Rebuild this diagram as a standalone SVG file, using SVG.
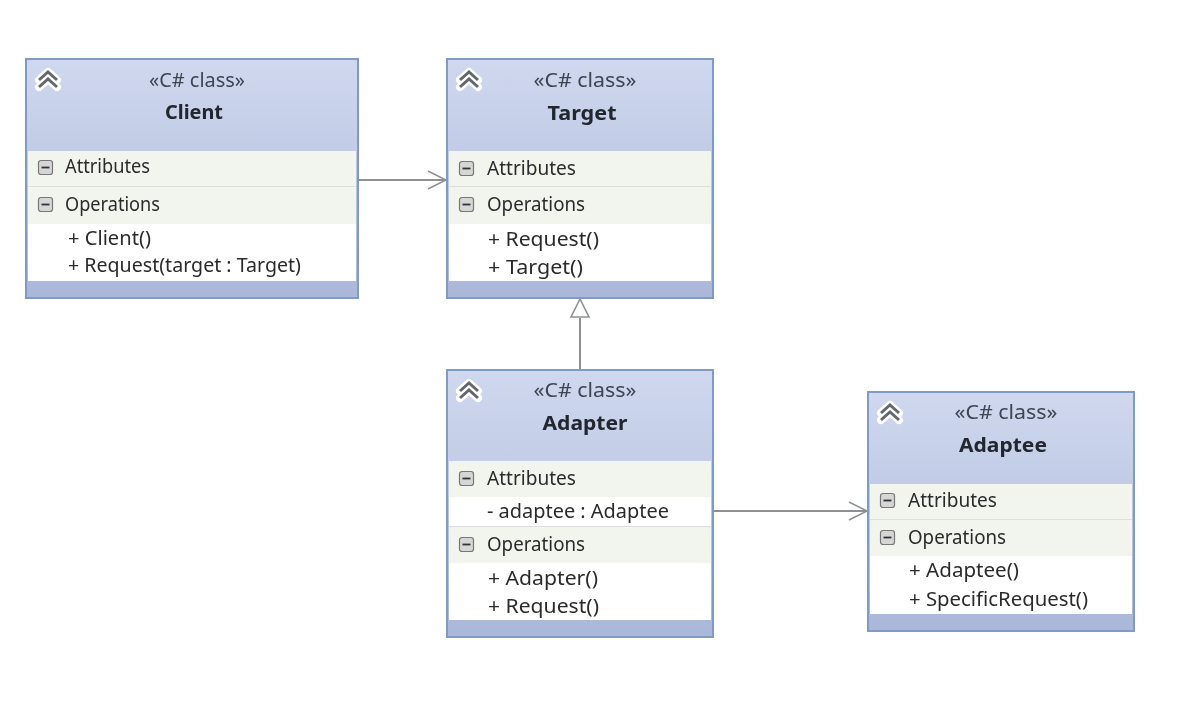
<svg xmlns="http://www.w3.org/2000/svg" width="1196" height="705" viewBox="0 0 1196 705">
<style>
text{font-family:"Noto Sans","Liberation Sans",sans-serif;font-size:19px;fill:#2b2b2b}
.st{fill:#3d4452;text-anchor:middle;font-size:20px}
.nm{font-weight:700;font-size:20px;text-anchor:middle;fill:#22262e}
.body{fill:url(#hdr);stroke:#7f9bc4;stroke-width:2}
.white{fill:#fff}
.sec{fill:#f2f5ee}
.sep{stroke:#dcdfdc;stroke-width:1}
.btn{fill:#d6d6d6;stroke:#777;stroke-width:1.2}
.dash{stroke:#333;stroke-width:1.8}
.chevW{fill:none;stroke:#fff;stroke-width:8;stroke-linejoin:round;stroke-linecap:round}
.chev{fill:none;stroke:#62676e;stroke-width:3}
.line{fill:none;stroke:#8e9194;stroke-width:2}
.thin{fill:none;stroke:#8e9194;stroke-width:1.5}
.tri{fill:#fff;stroke:#8e9194;stroke-width:1.6}
.soft{filter:url(#soft)}
</style>
<defs>
<filter id="soft" x="-5%" y="-5%" width="110%" height="110%"><feGaussianBlur stdDeviation="0.5"/></filter>
<linearGradient id="hdr" x1="0" y1="0" x2="0" y2="1"><stop offset="0" stop-color="#cfd8ee"/><stop offset="0.35" stop-color="#c3cde7"/><stop offset="1" stop-color="#aab7d9"/></linearGradient>
<g id="chev"><path class="chevW" d="M0 8 9 0 18 8M0 15 9 7 18 15"/><path class="chev" d="M0 8 9 0 18 8M0 15 9 7 18 15"/></g>
<g id="toggle"><rect class="btn" x="0.5" y="0.5" width="14" height="14" rx="2.500"/><path class="dash" d="M3.500 7.500H11.500"/></g>
</defs>
<g id="connectors" class="soft">
<path class="line" d="M358 180H446"/><path class="thin" d="M428 171 446 180 428 189"/>
<path class="line" d="M580 370V318"/>
<path class="tri" d="M580 299 571 317H589Z"/>
<path class="line" d="M713 511H867"/><path class="thin" d="M849 502 867 511 849 520"/>
</g>
<g id="client" class="soft">
<rect class="body" x="26" y="59" width="332" height="239"/>
<rect class="sec" x="28" y="151" width="328" height="35"/>
<rect class="sec" x="28" y="187" width="328" height="37"/>
<path class="sep" d="M28 186.500H356"/>
<rect class="white" x="28" y="224" width="328" height="57"/>
<use href="#chev" x="39" y="72"/>
<text class="st" x="197" y="87" textLength="96" lengthAdjust="spacingAndGlyphs">«C# class»</text>
<text class="nm" x="194" y="119" textLength="58" lengthAdjust="spacingAndGlyphs">Client</text>
<use href="#toggle" x="38" y="160"/><text x="65" y="173" textLength="85" lengthAdjust="spacingAndGlyphs">Attributes</text>
<use href="#toggle" x="38" y="197"/><text x="65" y="211" textLength="95" lengthAdjust="spacingAndGlyphs">Operations</text>
<text x="68" y="245" textLength="83" lengthAdjust="spacingAndGlyphs">+ Client()</text>
<text x="68" y="272" textLength="233" lengthAdjust="spacingAndGlyphs">+ Request(target : Target)</text>
</g>
<g id="target" class="soft">
<rect class="body" x="447" y="59" width="266" height="239"/>
<rect class="sec" x="449" y="151" width="262" height="35"/>
<rect class="sec" x="449" y="187" width="262" height="37"/>
<path class="sep" d="M449 186.500H711"/>
<rect class="white" x="449" y="224" width="262" height="57"/>
<use href="#chev" x="460" y="72"/>
<text class="st" x="585" y="87" textLength="103" lengthAdjust="spacingAndGlyphs">«C# class»</text>
<text class="nm" x="582" y="120" textLength="69" lengthAdjust="spacingAndGlyphs">Target</text>
<use href="#toggle" x="459" y="161"/><text x="487" y="175" textLength="89" lengthAdjust="spacingAndGlyphs">Attributes</text>
<use href="#toggle" x="459" y="197"/><text x="487" y="211" textLength="98" lengthAdjust="spacingAndGlyphs">Operations</text>
<text x="488" y="246" textLength="111" lengthAdjust="spacingAndGlyphs">+ Request()</text>
<text x="488" y="274" textLength="95" lengthAdjust="spacingAndGlyphs">+ Target()</text>
</g>
<g id="adapter" class="soft">
<rect class="body" x="447" y="370" width="266" height="267"/>
<rect class="sec" x="449" y="461" width="262" height="36"/>
<rect class="white" x="449" y="497" width="262" height="29"/>
<path class="sep" d="M449 526.500H711"/>
<rect class="sec" x="449" y="527" width="262" height="36"/>
<rect class="white" x="449" y="563" width="262" height="57"/>
<use href="#chev" x="460" y="383"/>
<text class="st" x="585" y="397" textLength="103" lengthAdjust="spacingAndGlyphs">«C# class»</text>
<text class="nm" x="585" y="430" textLength="85" lengthAdjust="spacingAndGlyphs">Adapter</text>
<use href="#toggle" x="459" y="471"/><text x="487" y="485" textLength="89" lengthAdjust="spacingAndGlyphs">Attributes</text>
<text x="487" y="518" textLength="182" lengthAdjust="spacingAndGlyphs">- adaptee : Adaptee</text>
<use href="#toggle" x="459" y="537"/><text x="487" y="551" textLength="98" lengthAdjust="spacingAndGlyphs">Operations</text>
<text x="488" y="585" textLength="110" lengthAdjust="spacingAndGlyphs">+ Adapter()</text>
<text x="488" y="613" textLength="111" lengthAdjust="spacingAndGlyphs">+ Request()</text>
</g>
<g id="adaptee" class="soft">
<rect class="body" x="868" y="392" width="266" height="239"/>
<rect class="sec" x="870" y="484" width="262" height="35"/>
<rect class="sec" x="870" y="520" width="262" height="36"/>
<path class="sep" d="M870 519.500H1132"/>
<rect class="white" x="870" y="556" width="262" height="58"/>
<use href="#chev" x="881" y="405"/>
<text class="st" x="1006" y="419" textLength="103" lengthAdjust="spacingAndGlyphs">«C# class»</text>
<text class="nm" x="1003" y="452" textLength="88" lengthAdjust="spacingAndGlyphs">Adaptee</text>
<use href="#toggle" x="880" y="493"/><text x="908" y="507" textLength="89" lengthAdjust="spacingAndGlyphs">Attributes</text>
<use href="#toggle" x="880" y="530"/><text x="908" y="544" textLength="98" lengthAdjust="spacingAndGlyphs">Operations</text>
<text x="909" y="577" textLength="110" lengthAdjust="spacingAndGlyphs">+ Adaptee()</text>
<text x="909" y="606" textLength="179" lengthAdjust="spacingAndGlyphs">+ SpecificRequest()</text>
</g>
</svg>
